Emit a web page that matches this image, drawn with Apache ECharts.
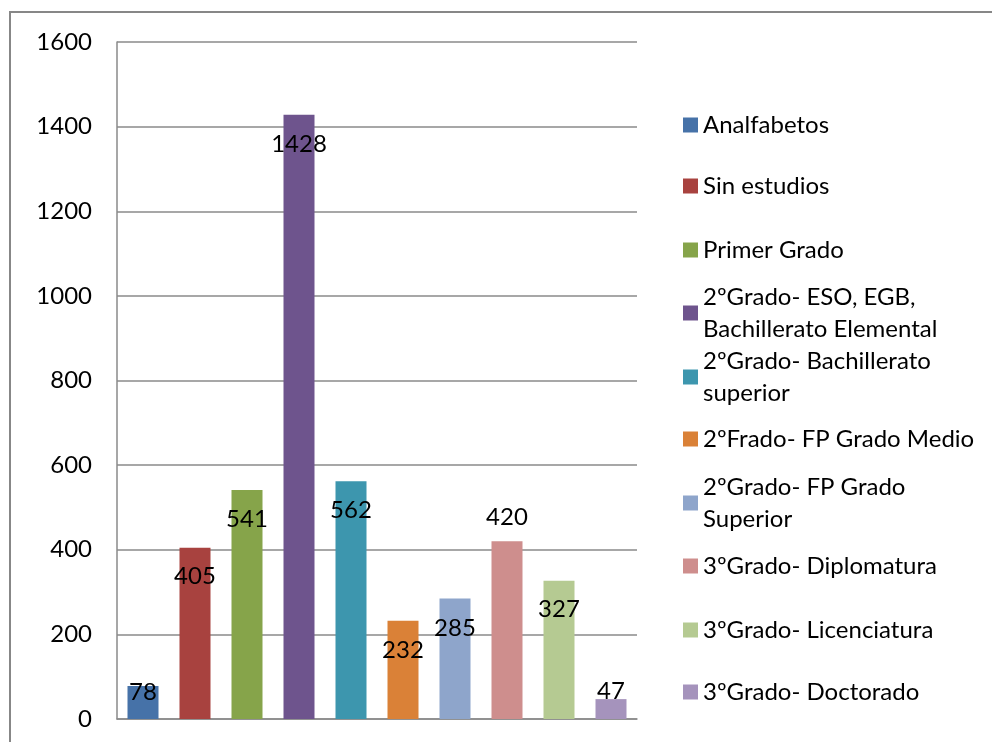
<!DOCTYPE html>
<html>
<head>
<meta charset="utf-8">
<script src="https://cdn.jsdelivr.net/npm/echarts@6/dist/echarts.min.js"></script>
<style>
  html, body { margin: 0; padding: 0; background: #fff; }
  #chart { width: 992px; height: 742px; }
  .frame {
    position: absolute; left: 9px; top: 11px; width: 1100px; height: 900px;
    border-left: 2px solid #878787; border-top: 2px solid #878787;
    pointer-events: none;
  }
</style>
</head>
<body>
<div id="chart"></div>
<div class="frame"></div>
<script>
const categories = [
  'Analfabetos',
  'Sin estudios',
  'Primer Grado',
  '2ºGrado- ESO, EGB, Bachillerato Elemental',
  '2ºGrado- Bachillerato superior',
  '2ºFrado- FP Grado Medio',
  '2ºGrado- FP Grado Superior',
  '3ºGrado- Diplomatura',
  '3ºGrado- Licenciatura',
  '3ºGrado- Doctorado'
]
const legendText = [
  'Analfabetos',
  'Sin estudios',
  'Primer Grado',
  '2ºGrado- ESO, EGB,\nBachillerato Elemental',
  '2ºGrado- Bachillerato\nsuperior',
  '2ºFrado- FP Grado Medio',
  '2ºGrado- FP Grado\nSuperior',
  '3ºGrado- Diplomatura',
  '3ºGrado- Licenciatura',
  '3ºGrado- Doctorado'
]
const values = [78, 405, 541, 1428, 562, 232, 285, 420, 327, 47]
const yMin = 0
const yMax = 1600
const yStep = 200

const colors = ['#4672A8', '#A8423F', '#86A44A', '#6E548D', '#3D96AE', '#DA8137', '#8EA5CB', '#CE8E8D', '#B5CA92', '#A593BC']
// where each value label sits relative to its bar
const labelPos = [
  { position: 'insideTop', distance: -6 },
  { position: 'insideTop', distance: 17 },
  { position: 'insideTop', distance: 17 },
  { position: 'insideTop', distance: 17 },
  { position: 'insideTop', distance: 17 },
  { position: 'insideTop', distance: 17 },
  { position: 'insideTop', distance: 18 },
  { position: 'top', distance: 12 },
  { position: 'insideTop', distance: 17 },
  { position: 'top', distance: -4 }
]
const legendCenters = [125, 186, 250, 313, 377, 439, 503, 566, 630, 692]

const font = 'Lato'
const fontSize = 24
const gridColor = '#8a8a8a'

const series = categories.map((name, i) => ({
  name: name,
  type: 'bar',
  stack: 'all',
  barWidth: 31,
  itemStyle: { color: colors[i] },
  label: {
    show: true,
    position: labelPos[i].position,
    distance: labelPos[i].distance,
    color: '#000',
    fontFamily: font,
    fontSize: fontSize
  },
  data: values.map((v, j) => (j === i ? v : '-'))
}))

const legends = categories.map((name, i) => {
  const wrapped = legendText[i].indexOf('\n') >= 0
  return {
    data: [name],
    orient: 'vertical',
    left: 683,
    top: legendCenters[i] - (wrapped ? 48 : 16),
    padding: 0,
    itemGap: 0,
    icon: 'rect',
    itemWidth: 15,
    itemHeight: 15,
    selectedMode: false,
    formatter: () => legendText[i],
    textStyle: {
      color: '#000',
      fontFamily: font,
      fontSize: fontSize,
      lineHeight: 32,
      padding: wrapped ? [32, 0, 0, 0] : 0
    }
  }
})

const option = {
  animation: false,
  grid: { left: 117, right: 355, top: 42, bottom: 23 },
  legend: legends,
  xAxis: {
    type: 'category',
    data: categories,
    axisLine: { show: true, lineStyle: { color: gridColor, width: 1.5 } },
    axisTick: { show: false },
    axisLabel: { show: false }
  },
  yAxis: {
    type: 'value',
    min: yMin,
    max: yMax,
    interval: yStep,
    axisLine: { show: true, lineStyle: { color: gridColor, width: 1.5 } },
    axisTick: { show: false },
    axisLabel: {
      color: '#000',
      fontFamily: font,
      fontSize: fontSize,
      margin: 25,
      formatter: (v) => String(v)
    },
    splitLine: { lineStyle: { color: gridColor, width: 1.5 } }
  },
  series: series
}

const myChart = echarts.init(document.getElementById('chart'))
myChart.setOption(option, true)
</script>
</body>
</html>
